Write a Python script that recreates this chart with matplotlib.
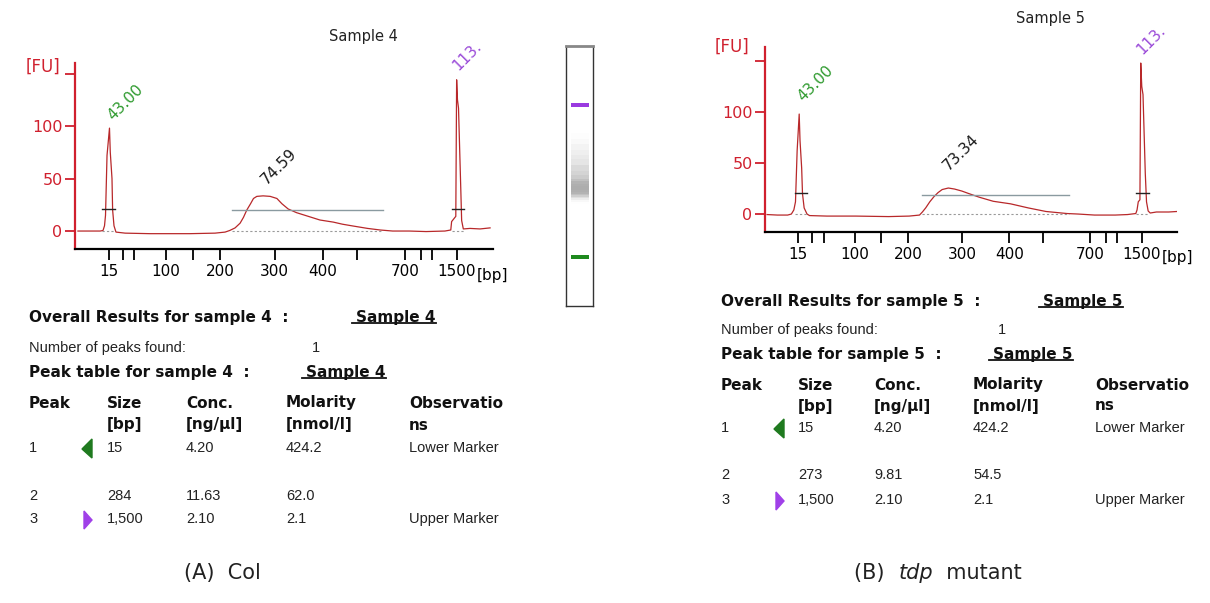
import matplotlib.pyplot as plt
from matplotlib.patches import Polygon, Rectangle
from matplotlib.lines import Line2D

W, H = 1210, 603

# ladder: size in bp and migration position on the time axis
ladder_bp = [15, 25, 50, 100, 150, 200, 300, 400, 500, 700, 850, 1000, 1500]
ladder_time = [8.1, 11.5, 14.2, 21.8, 28.2, 34.8, 47.8, 59.3, 67.4, 79.0, 82.7, 85.4, 91.4]
shown_bp = [15, 100, 200, 300, 400, 700, 1500]

# Sample 4 (Col) electropherogram
col_time = [0.7, 6.0, 6.7, 7.06, 7.3, 7.66, 8.25, 8.44, 8.85, 9.0, 9.33, 9.8, 12.0, 17.9, 27.5,
            33.5, 35.9, 37.0, 38.3, 39.5, 40.3, 41.1, 42.0, 42.7, 43.5, 45.0, 46.7, 48.3, 49.5,
            51.0, 53.0, 55.0, 58.6, 61.8, 64.0, 66.5, 70.0, 73.0, 76.0, 80.0, 84.0, 88.5, 89.9,
            90.1, 90.5, 91.1, 91.3, 91.5, 91.75, 92.3, 92.5, 92.9, 94.5, 96.9, 99.3]
col_fu = [0, 0, 0.5, 5, 15, 72, 98, 75, 50, 20, 5, -1, -2, -2.5, -2.5,
          -2, -1, 0.5, 3, 7.5, 13, 20, 26, 31, 33, 33.5, 33, 31, 26,
          21, 17.5, 15, 10.5, 8.5, 6.5, 4.8, 2.5, 1, 0, 0, -0.5, 0, 1,
          9, 11, 14, 144, 125, 117, 39, 10, 2, 2.5, 2, 3]

# Sample 5 (tdp mutant)
mut_time = [0.5, 3.0, 5.5, 6.4, 7.0, 7.4, 7.8, 8.3, 8.5, 8.9, 9.1, 9.5, 10.2, 10.8, 15.0, 22.0,
            30.0, 35.0, 37.5, 38.2, 39.0, 40.0, 41.0, 42.0, 43.0, 44.5, 46.0, 47.8, 49.5, 52.0,
            55.4, 59.6, 63.9, 68.2, 73.3, 76.0, 80.0, 85.0, 88.0, 90.0, 90.3, 90.6, 91.0, 91.2,
            91.45, 91.75, 92.3, 92.6, 93.0, 93.5, 95.0, 98.0, 100.0]
mut_fu = [-0.5, -1, -1, 0, 4, 12, 62, 98, 72, 45, 20, 6, 0, -1.5, -2, -2,
          -2.5, -2, -1, 2, 6, 12, 17, 21, 24, 25.5, 24.5, 22.5, 20, 16.5,
          12.5, 10, 6, 2.5, 0.5, 0, -1, -1, -0.5, 0.5, 4, 12, 14, 148,
          125, 117, 40, 12, 3, 1, 2, 2, 2.5]

# peak labels (text, time, FU)
col_peak_text = ["43.00", "74.59", "113."]
col_peak_time = [9.6, 46.3, 92.3]
col_peak_fu = [103, 42, 150]
mut_peak_text = ["43.00", "73.34", "113."]
mut_peak_time = [9.7, 45.1, 92.2]
mut_peak_fu = [108, 40, 154]
peak_colors = ["#2e9a2e", "#1a1a1a", "#9a4ad8"]

# integration windows (start, end, level)
col_windows = [(6.5, 9.6, 21), (37.6, 73.7, 20), (90.2, 93.1, 21)]
mut_windows = [(7.3, 10.3, 20.7), (38.2, 73.7, 19.1), (90.0, 93.1, 20.7)]

# peak tables
head_top = ["Peak", "Size", "Conc.", "Molarity", "Observatio"]
head_bot = ["", "[bp]", "[ng/\u00b5l]", "[nmol/l]", "ns"]
col_rows = [["1", "15", "4.20", "424.2", "Lower Marker"],
            ["2", "284", "11.63", "62.0", ""],
            ["3", "1,500", "2.10", "2.1", "Upper Marker"]]
mut_rows = [["1", "15", "4.20", "424.2", "Lower Marker"],
            ["2", "273", "9.81", "54.5", ""],
            ["3", "1,500", "2.10", "2.1", "Upper Marker"]]
peaks_found = "1"

RED = "#d0202e"
TRACE = "#b8282a"
BOLD = dict(family="DejaVu Sans", fontweight="bold", fontsize=11, color="#111111")
REG = dict(family="Liberation Sans", fontsize=10.5, color="#222222")

fig = plt.figure(figsize=(W / 100, H / 100), dpi=100)
fig.patch.set_facecolor("white")


def P(x, y):
    return x / W, 1 - y / H


def ftext(x, y, s, **kw):
    fx, fy = P(x, y)
    return fig.text(fx, fy, s, va="center", **kw)


def panel(left, right, top, bottom, ylim, time, fu, ptext, ptime, pfu, windows):
    ax = fig.add_axes([left / W, 1 - bottom / H, (right - left) / W, (bottom - top) / H])
    ax.plot(time, fu, color=TRACE, lw=0.9)
    for i, (a, b, lev) in enumerate(windows):
        c = "#8a9aa0" if i == 1 else "#222222"
        ax.plot([a, b], [lev, lev], color=c, lw=1.0)
        ax.plot([a, b], [0, 0], color="#9a9a9a", lw=0.8, ls=(0, (2, 2)))
    for s, t, v, c in zip(ptext, ptime, pfu, peak_colors):
        ax.text(t, v, s, rotation=45, rotation_mode="anchor", ha="left", va="bottom",
                color=c, fontsize=11, family="DejaVu Sans", clip_on=False)
    ax.set_xlim(0, 100)
    ax.set_ylim(*ylim)
    for sp in ["top", "right"]:
        ax.spines[sp].set_visible(False)
    ax.spines["left"].set_color(RED)
    ax.spines["left"].set_linewidth(1.6)
    ax.spines["bottom"].set_color("black")
    ax.spines["bottom"].set_linewidth(1.6)
    ax.set_yticks([0, 50, 100, 150])
    ax.set_yticklabels(["0", "50", "100", ""])
    ax.tick_params(axis="y", colors=RED, labelcolor=RED, length=7, width=1.3,
                   labelsize=11.5, pad=2)
    ax.set_xticks(ladder_time)
    ax.set_xticklabels([str(b) if b in shown_bp else "" for b in ladder_bp])
    ax.tick_params(axis="x", colors="black", length=8, width=1.3, labelsize=11, pad=3)
    ax.text(0.962, -0.14, "[bp]", transform=ax.transAxes, ha="left", va="center",
            fontsize=11, color="black")
    return ax


ax_a = panel(75, 493, 63, 249, (-17.1, 160), col_time, col_fu,
             col_peak_text, col_peak_time, col_peak_fu, col_windows)
ax_b = panel(765, 1177, 47, 232, (-17.6, 163.7), mut_time, mut_fu,
             mut_peak_text, mut_peak_time, mut_peak_fu, mut_windows)

ftext(363, 37, "Sample 4", ha="center", fontsize=10.5, color="#222222")
ftext(1050, 18, "Sample 5", ha="center", fontsize=10.5, color="#222222")
ftext(43, 67, "[FU]", ha="center", fontsize=12, color=RED)
ftext(732, 47, "[FU]", ha="center", fontsize=12, color=RED)

# gel lane for sample 4, built from the trace
gel = fig.add_axes([566 / W, 1 - 306 / H, 27 / W, 260 / H])
gel.set_xlim(0, 1)
gel.set_ylim(-18.8, 123.7)
gel.set_xticks([])
gel.set_yticks([])
for sp in gel.spines.values():
    sp.set_color("#333333")
    sp.set_linewidth(1.0)
gel.spines["top"].set_color("#888888")
gel.spines["top"].set_linewidth(2)
for i in range(len(col_time) - 1):
    t0, t1 = col_time[i], col_time[i + 1]
    if 30 < t0 < 85:
        a = max(col_fu[i], 0) / 33.5 * 0.32
        gel.add_patch(Rectangle((0.18, t0), 0.67, t1 - t0, color="black", alpha=a, lw=0))
gel.add_patch(Rectangle((0.18, ladder_time[-1] - 1.1), 0.67, 2.2, color="#9a3ae0", lw=0))
gel.add_patch(Rectangle((0.18, ladder_time[0] - 1.1), 0.67, 2.2, color="#1f8a1f", lw=0))

# results tables
underlined = []


def table(x0, y_over, y_num, x_num, y_peak, y_head, y_rows, cols, tri_x, u1, u2, name, rows):
    ftext(x0, y_over, "Overall Results for sample %s  :" % name[-1], **BOLD)
    underlined.append(ftext(u1, y_over, name, **BOLD))
    ftext(x0, y_num, "Number of peaks found:", **REG)
    ftext(x_num, y_num, peaks_found, **REG)
    ftext(x0, y_peak, "Peak table for sample %s  :" % name[-1], **BOLD)
    underlined.append(ftext(u2, y_peak, name, **BOLD))
    for c, s1, s2 in zip(cols, head_top, head_bot):
        ftext(c, y_head[0], s1, **BOLD)
        if s2:
            ftext(c, y_head[1], s2, **BOLD)
    for r, y in zip(rows, y_rows):
        for c, s in zip(cols, r):
            ftext(c, y, s, **REG)
    y1, y3 = y_rows[0], y_rows[2]
    tri1 = [P(tri_x + 5, y1 - 9), P(tri_x + 5, y1 + 10), P(tri_x - 5, y1 + 1)]
    tri3 = [P(tri_x - 3, y3 - 8), P(tri_x - 3, y3 + 10), P(tri_x + 5, y3 + 1)]
    fig.add_artist(Polygon(tri1, closed=True, color="#1f7a1f", transform=fig.transFigure))
    fig.add_artist(Polygon(tri3, closed=True, color="#a040e8", transform=fig.transFigure))


table(29, 317, 348, 312, 372, (403, 425), (448, 496, 519), [29, 107, 186, 286, 409], 87,
      356, 306, "Sample 4", col_rows)
table(721, 301, 330, 998, 354, (385, 406), (428, 475, 500), [721, 798, 874, 973, 1095], 779,
      1043, 993, "Sample 5", mut_rows)

# captions
cap_kw = dict(fontsize=15, family="DejaVu Sans", color="#222222")
ftext(222, 573, "(A)  Col", ha="center", **cap_kw)
parts = [("(B)  ", "normal"), ("tdp", "italic"), ("  mutant", "normal")]
texts = [ftext(0, 573, s, style=st, **cap_kw) for s, st in parts]

fig.canvas.draw()
r = fig.canvas.get_renderer()
widths = [t.get_window_extent(r).width for t in texts]
x = 938 - sum(widths) / 2
for t, w in zip(texts, widths):
    t.set_x(x / W)
    x += w

for t in underlined:
    bb = t.get_window_extent(r)
    yline = bb.y0 + 1.5
    fig.add_artist(Line2D([(bb.x0 - 4) / W, bb.x1 / W], [yline / H, yline / H],
                          color="#111111", lw=1.3, transform=fig.transFigure))

fig.savefig("out.png", dpi=100)
